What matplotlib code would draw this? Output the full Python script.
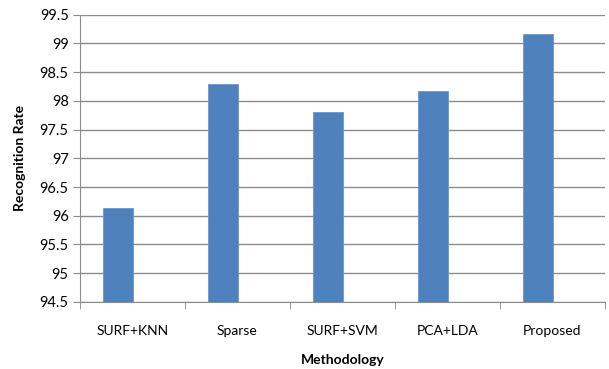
import numpy as np
import matplotlib.pyplot as plt
from matplotlib.ticker import MultipleLocator, FixedLocator

methods = ["SURF+KNN", "Sparse", "SURF+SVM", "PCA+LDA", "Proposed"]
rates = [96.14, 98.30, 97.80, 98.18, 99.17]

plt.rcParams["font.family"] = ["Lato", "DejaVu Sans"]

fig = plt.figure(figsize=(6.09, 3.69), dpi=100)
ax = fig.add_axes([0.131, 0.182, 0.862, 0.778])

x = np.arange(len(methods))
# bars sit left of the category centre, as in a clustered chart with an empty second series
ax.bar(x - 0.138, np.array(rates) - 94.5, bottom=94.5, width=0.286,
       color="#4F81BD", edgecolor="#6C96C8", linewidth=0.6, zorder=3)

ax.set_xlim(-0.5, len(methods) - 0.5)
ax.set_ylim(94.5, 99.5)
ax.yaxis.set_major_locator(MultipleLocator(0.5))
ax.yaxis.set_major_formatter(plt.FuncFormatter(lambda v, _: f"{v:g}"))
ax.grid(axis="y", color="#8C8C8C", linewidth=1.0, zorder=0)

ax.set_xticks(x)
ax.set_xticklabels(methods)
ax.xaxis.set_minor_locator(FixedLocator(np.arange(-0.5, len(methods), 1.0)))
ax.tick_params(axis="x", which="major", length=0, pad=17, labelsize=10)
ax.tick_params(axis="x", which="minor", length=5, color="#8C8C8C")
ax.tick_params(axis="y", length=5, color="#8C8C8C", labelsize=10.5, pad=3)

for side in ["top", "right"]:
    ax.spines[side].set_visible(False)
for side in ["left", "bottom"]:
    ax.spines[side].set_color("#8C8C8C")

ax.set_xlabel("Methodology", fontweight="bold", fontsize=10, labelpad=12)
ax.set_ylabel("Recognition Rate", fontweight="bold", fontsize=10, labelpad=10)

fig.savefig("out.png", dpi=100)
